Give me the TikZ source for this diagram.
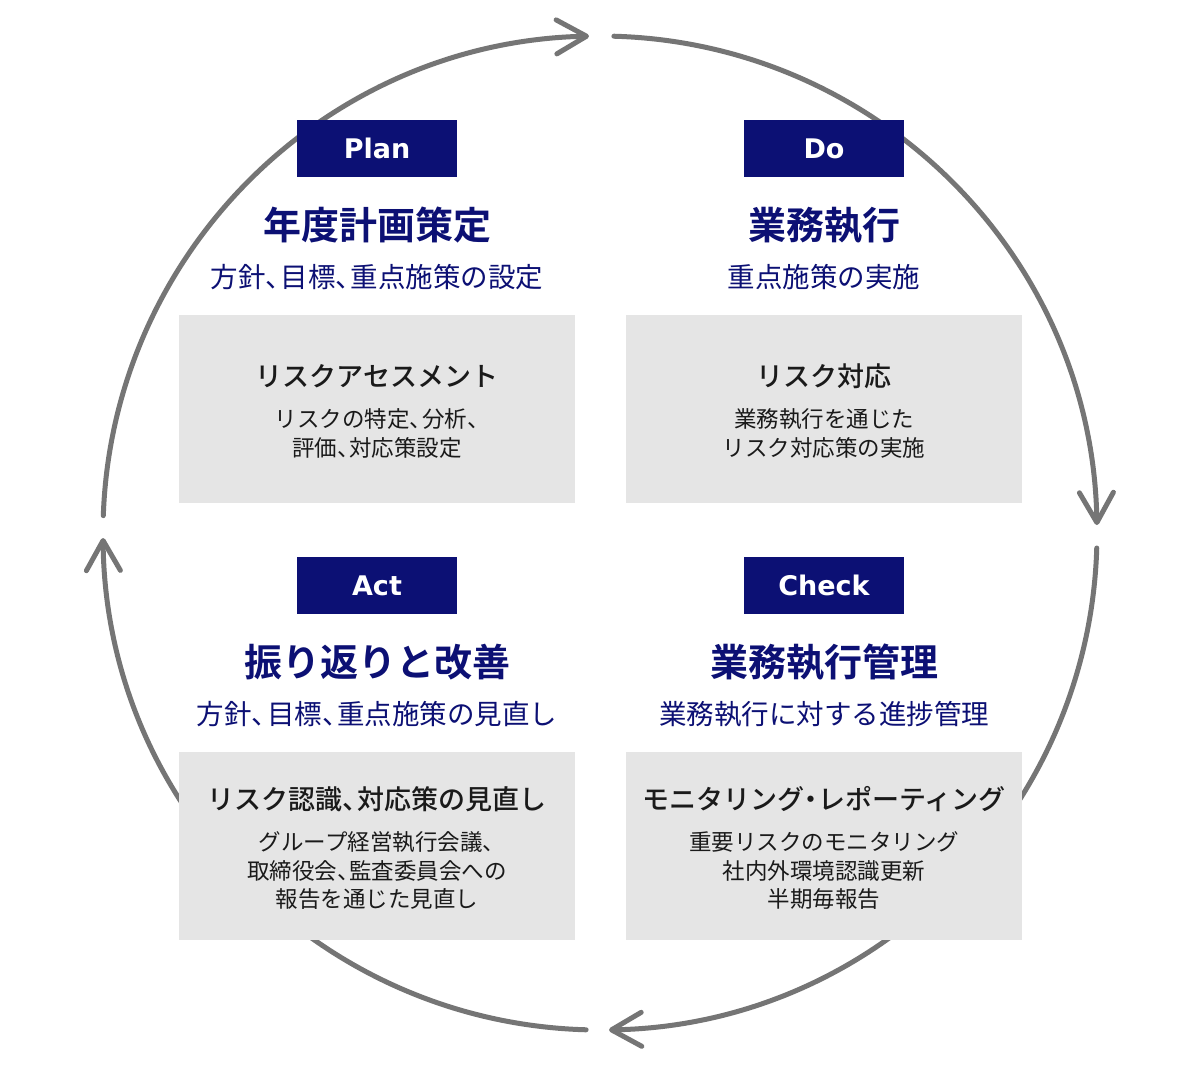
\documentclass[tikz,border=0pt]{standalone}
\usepackage{fontspec}
\setmainfont{Noto Sans CJK JP}
\newfontfamily\jpbold{Noto Sans CJK JP Bold}
\newfontfamily\jpmed{Noto Sans CJK JP Medium}
\newfontfamily\latbold{DejaVu Sans Bold}
\usetikzlibrary{arrows.meta}
\definecolor{navy}{RGB}{12,16,116}
\definecolor{boxgray}{RGB}{229,229,229}
\definecolor{arcgray}{RGB}{117,117,117}
\definecolor{inkc}{RGB}{26,26,26}
\newcommand\tk{、\kern-0.45em}
\newcommand\nk{\kern-0.25em・\kern-0.25em}
\begin{document}
\begin{tikzpicture}[x=1pt,y=-1pt,
  cyc/.style={draw=arcgray,line width=5pt,line cap=round,-{Straight Barb[length=30pt,width=34pt,round]}},
  phase/.style={fill=navy,text=white,minimum width=160pt,minimum height=57pt,inner sep=0pt,
    font=\latbold\fontsize{27}{30}\selectfont,text height=19.7pt,text depth=0pt},
  ttl/.style={text=navy,inner sep=0pt,font=\jpbold\fontsize{38}{40}\selectfont,text height=33.4pt,text depth=4.6pt},
  subttl/.style={text=navy,inner sep=0pt,font=\fontsize{27.5}{30}\selectfont,text height=24.2pt,text depth=3.3pt},
  panel/.style={fill=boxgray,minimum width=396pt,minimum height=188pt,inner sep=0pt},
  head/.style={text=inkc,inner sep=0pt,font=\jpmed\fontsize{27}{30}\selectfont,text height=23.8pt,text depth=3.2pt},
  bodyline/.style={text=inkc,inner sep=0pt,font=\fontsize{22.5}{26}\selectfont,text height=19.8pt,text depth=2.7pt}
]
\fill[white] (0,0) rectangle (1200,1066);
\useasboundingbox (0,0) rectangle (1200,1066);

% cycle arcs
\coordinate (c) at (600,533);
\draw[cyc] (c) ++(-178:497) arc[start angle=-178,end angle=-91.27,radius=497];
\draw[cyc] (c) ++(-88.4:497) arc[start angle=-88.4,end angle=-0.92,radius=497];
\draw[cyc] (c) ++(1.73:497) arc[start angle=1.73,end angle=88.96,radius=497];
\draw[cyc] (c) ++(91.6:497) arc[start angle=91.6,end angle=179.42,radius=497];

% panels
\node[panel] (pplan) at (377,409) {};
\node[panel] (pdo) at (824,409) {};
\node[panel] (pact) at (377,846) {};
\node[panel] (pcheck) at (824,846) {};

% Plan
\node[phase] (lplan) at (377,148.5) {Plan};
\node[ttl] (tplan) at (377,225) {年度計画策定};
\node[subttl] (splan) at (377,277) {方針\tk 目標\tk 重点施策の設定};
\node[head] (hplan) at (377,376) {リスクアセスメント};
\node[bodyline] (bplan1) at (377,419) {リスクの特定\tk 分析\tk};
\node[bodyline] (bplan2) at (377,447.5) {評価\tk 対応策設定};

% Do
\node[phase] (ldo) at (824,148.5) {Do};
\node[ttl] (tdo) at (824,225) {業務執行};
\node[subttl] (sdo) at (824,277) {重点施策の実施};
\node[head] (hdo) at (824,376) {リスク対応};
\node[bodyline] (bdo1) at (824,419) {業務執行を通じた};
\node[bodyline] (bdo2) at (824,447.5) {リスク対応策の実施};

% Act
\node[phase] (lact) at (377,585.5) {Act};
\node[ttl] (tact) at (377,662.5) {振り返りと改善};
\node[subttl] (sact) at (377,714) {方針\tk 目標\tk 重点施策の見直し};
\node[head] (hact) at (377,799) {リスク認識\tk 対応策の見直し};
\node[bodyline] (bact1) at (377,842) {グループ経営執行会議\tk};
\node[bodyline] (bact2) at (377,870.5) {取締役会\tk 監査委員会への};
\node[bodyline] (bact3) at (377,899) {報告を通じた見直し};

% Check
\node[phase] (lcheck) at (824,585.5) {Check};
\node[ttl] (tcheck) at (824,662.5) {業務執行管理};
\node[subttl] (scheck) at (824,714) {業務執行に対する進捗管理};
\node[head] (hcheck) at (824,799) {モニタリング\nk レポーティング};
\node[bodyline] (bcheck1) at (824,842) {重要リスクのモニタリング};
\node[bodyline] (bcheck2) at (824,870.5) {社内外環境認識更新};
\node[bodyline] (bcheck3) at (824,899) {半期毎報告};
\end{tikzpicture}
\end{document}
